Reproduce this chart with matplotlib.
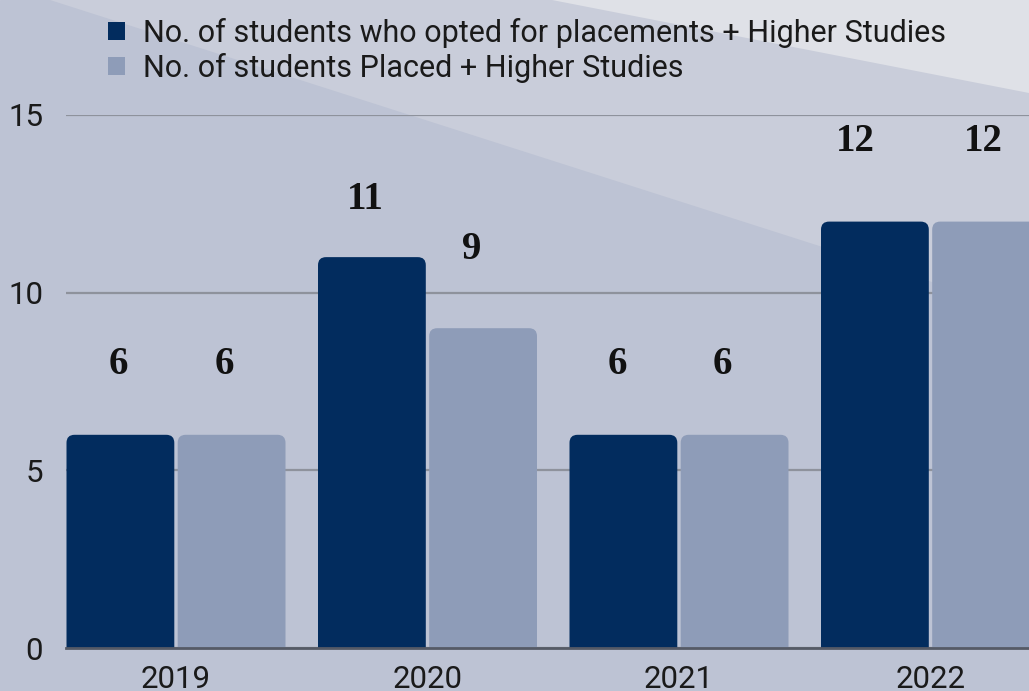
import matplotlib
matplotlib.use("Agg")
import matplotlib.pyplot as plt
from matplotlib.patches import FancyBboxPatch, Polygon, Rectangle, Patch
import numpy as np

# ---- data ----
years = ["2019", "2020", "2021", "2022"]
opted = [6, 11, 6, 12]
placed = [6, 9, 6, 12]
series_names = ["No. of students who opted for placements + Higher Studies",
                "No. of students Placed + Higher Studies"]
yticks = [0, 5, 10, 15]

# ---- style ----
DARK = "#022c5e"
LIGHT = "#8e9cb8"
# label offsets in pixels (dx, dy above bar top)
opted_dx = [-2, -7, -6, -20]
opted_dy = [70, 58, 70, 80]
placed_dx = [-7, -11, -12, -3]
placed_dy = [70, 79, 70, 80]

W, H = 1029, 691
fig = plt.figure(figsize=(W / 100, H / 100), dpi=100)

# background
bg = fig.add_axes([0, 0, 1, 1], zorder=-5)
bg.set_xlim(0, W)
bg.set_ylim(H, 0)
bg.axis("off")
bg.add_patch(Rectangle((0, 0), W, H, color="#bdc3d4", zorder=0))
bg.add_patch(Polygon([(50, 0), (W, 0), (W, 0.32 * (W - 50))], closed=True,
                     color="#c9cdda", zorder=1, lw=0))
bg.add_patch(Polygon([(552, 0), (W, 0), (W, 93)], closed=True,
                     color="#dfe1e7", zorder=2, lw=0))

# main axes
left = 66 / W
bottom = (H - 648) / H
top = (H - 115) / H
ax = fig.add_axes([left, bottom, 1.0 - left, top - bottom])
ax.patch.set_alpha(0)

spacing_px = 251.5
x = np.arange(len(years))
width = 107.8 / spacing_px
off = 55.6 / spacing_px

ax.set_xlim(-110 / spacing_px, (W - 176) / spacing_px)
ax.set_ylim(0, 15)

bars1 = ax.bar(x - off, opted, width, color=DARK, zorder=3)
bars2 = ax.bar(x + off, placed, width, color=LIGHT, zorder=3)

# replace rectangles with rounded-top versions
fig.canvas.draw()
px_per_x = ax.transData.transform((1, 0))[0] - ax.transData.transform((0, 0))[0]
px_per_y = ax.transData.transform((0, 1))[1] - ax.transData.transform((0, 0))[1]
r_px = 8
r_x = r_px / px_per_x
aspect = (r_px / px_per_y) / r_x
for bars in (bars1, bars2):
    for b in bars:
        b.set_visible(False)
        bx, by = b.get_x(), b.get_y()
        bw, bh = b.get_width(), b.get_height()
        ext = r_px / px_per_y
        p = FancyBboxPatch((bx, by - ext), bw, bh + ext,
                           boxstyle=f"round,pad=0,rounding_size={r_x}",
                           mutation_aspect=aspect,
                           facecolor=b.get_facecolor(), edgecolor="none",
                           zorder=3, clip_on=True)
        ax.add_patch(p)

# value labels
label_font = dict(family=["Liberation Serif", "DejaVu Serif"], weight="bold",
                  fontsize=28, color="#111111")
for i, v in enumerate(opted):
    ax.annotate(str(v), (x[i] - off, v), xytext=(opted_dx[i] * 0.72, opted_dy[i] * 0.72),
                textcoords="offset points", ha="center", va="center", **label_font)
for i, v in enumerate(placed):
    ax.annotate(str(v), (x[i] + off, v), xytext=(placed_dx[i] * 0.72, placed_dy[i] * 0.72),
                textcoords="offset points", ha="center", va="center", **label_font)

# grid and axes
ax.set_yticks(yticks)
ax.yaxis.grid(True, color="#8e929c", linewidth=1.6, zorder=1)
ax.set_axisbelow(True)
for s in ["top", "right", "left"]:
    ax.spines[s].set_visible(False)
ax.spines["bottom"].set_color("#555a66")
ax.spines["bottom"].set_linewidth(2)
ax.spines["bottom"].set_zorder(4)
ax.set_xticks(x)
ax.set_xticklabels(years)
ax.tick_params(axis="both", length=0, labelsize=22.5, labelcolor="#1a1a1a")
ax.tick_params(axis="y", pad=16.5)
ax.tick_params(axis="x", pad=12)
for lbl in ax.get_xticklabels() + ax.get_yticklabels():
    lbl.set_fontfamily(["Roboto", "DejaVu Sans"])

# legend
handles = [Patch(facecolor=DARK, edgecolor="none"),
           Patch(facecolor=LIGHT, edgecolor="none")]
leg = fig.legend(handles=handles, labels=series_names,
                 loc="upper left", bbox_to_anchor=(108 / W, (H - 18) / H),
                 frameon=False, prop={"family": "Roboto", "size": 22},
                 handlelength=0.55, handleheight=0.55, handletextpad=0.6,
                 labelspacing=0.15, borderpad=0, borderaxespad=0)
for t in leg.get_texts():
    t.set_color("#1a1a1a")

fig.savefig("out.png", dpi=100)
